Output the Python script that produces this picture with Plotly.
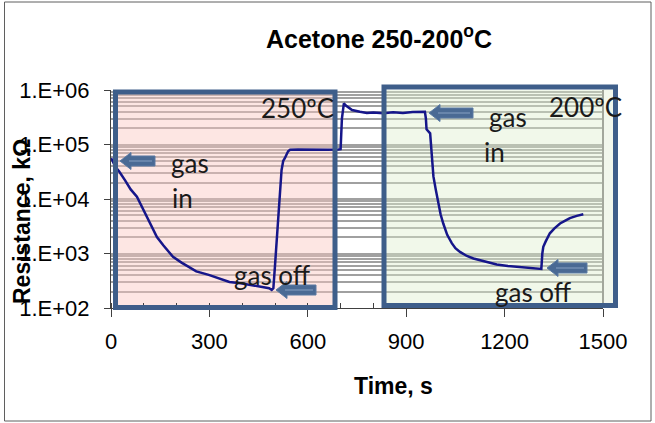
import plotly.graph_objects as go

# ---------------- data ----------------
time_s = [0, 5, 12, 25, 43, 60, 79, 95, 110, 125, 140, 160, 189, 215, 234, 260, 298, 330, 361,
          395, 425, 455, 482, 490, 495, 500, 508, 515, 520, 525, 530, 540, 546, 570, 600, 630,
          660, 693, 700, 704, 710, 716, 723, 735, 759, 780, 800, 830, 860, 890, 920, 957, 960,
          962, 973, 978, 983, 990, 998, 1005, 1013, 1025, 1039, 1050, 1064, 1085, 1105, 1140,
          1176, 1210, 1247, 1280, 1308, 1312, 1315, 1318, 1325, 1338, 1352, 1369, 1385, 1399,
          1420, 1440]
resistance_kohm = [56000, 50000, 40000, 32000, 22000, 15000, 11000, 7000, 4700, 3000, 2000, 1400,
                   870, 680, 575, 470, 405, 350, 300, 285, 265, 245, 230, 215, 230, 600, 3000,
                   15000, 34000, 50000, 56000, 75000, 80000, 81000, 80000, 81500, 80500, 81000,
                   82000, 300000, 570000, 520000, 490000, 430000, 400000, 380000, 385000, 375000,
                   390000, 380000, 395000, 400000, 300000, 190000, 160000, 60000, 26000, 15000,
                   8300, 5200, 3550, 2200, 1550, 1250, 1070, 900, 810, 720, 630, 590, 560, 530,
                   510, 520, 1000, 1330, 1650, 2350, 2900, 3550, 4000, 4450, 4900, 5250]

x_tick_vals = [0, 300, 600, 900, 1200, 1500]
x_tick_text = ["0", "300", "600", "900", "1200", "1500"]
y_tick_vals = [1e2, 1e3, 1e4, 1e5, 1e6]
y_tick_text = ["1.E+02", "1.E+03", "1.E+04", "1.E+05", "1.E+06"]

title_text = "Acetone 250-200<sup>o</sup>C"
x_title = "Time, s"
y_title = "Resistance, kΩ"
note_texts = ["gas", "in", "250ºC", "gas off", "gas", "in", "200ºC", "gas off"]

# ---------------- layout geometry (pixels) ----------------
W_IMG, H_IMG = 655, 423
L, T, R_, B = 111, 90, 603, 308
PW, PH = R_ - L, B - T
X_MAX = 1500
Y_LOG = (2, 6)


def px2x(px):
    return (px - L) / PW


def py2y(py):
    return 1 - (py - T) / PH


def px2t(px):
    return (px - L) / PW * X_MAX


def py2r(py):
    return 10 ** (Y_LOG[1] - (py - T) / PH * (Y_LOG[1] - Y_LOG[0]))


BOX_COLOR = "#3e5e8a"
ARROW_FILL = "#4a6a94"
GRID = "#a0a0a0"
FONT = "Liberation Sans, Arial, sans-serif"
NOTE_FONT = "Lato, Carlito, Calibri, sans-serif"

fig = go.Figure()
fig.add_trace(go.Scatter(x=time_s, y=resistance_kohm, mode="lines",
                         line=dict(color="#16168a", width=2.5), hoverinfo="skip",
                         showlegend=False))

shapes = []
# tinted fills (between gridlines and traces)
pink = (115.5, 92, 335, 307.5)
green = (384, 87, 615.5, 305.5)
shapes.append(dict(type="rect", xref="x", yref="y", layer="between",
                   x0=px2t(pink[0]), x1=px2t(pink[2]), y0=py2r(pink[3]), y1=py2r(pink[1]),
                   line=dict(width=0), fillcolor="rgba(250,200,194,0.45)"))
shapes.append(dict(type="rect", xref="x", yref="y", layer="between",
                   x0=px2t(green[0]), x1=px2t(green[2]), y0=py2r(green[3]), y1=py2r(green[1]),
                   line=dict(width=0), fillcolor="rgba(222,238,206,0.42)"))
# green strip beyond plot area
shapes.append(dict(type="rect", xref="paper", yref="paper", layer="below",
                   x0=px2x(R_), x1=px2x(green[2]), y0=py2y(green[3]), y1=py2y(green[1]),
                   line=dict(width=0), fillcolor="#f2f7ec"))
# right edge gray line of plot area
shapes.append(dict(type="line", xref="paper", yref="paper", layer="above",
                   x0=1, x1=1, y0=0, y1=1, line=dict(color="#a3a79c", width=2)))
# box borders
for bx in (pink, green):
    shapes.append(dict(type="rect", xref="paper", yref="paper", layer="above",
                       x0=px2x(bx[0]), x1=px2x(bx[2]), y0=py2y(bx[3]), y1=py2y(bx[1]),
                       line=dict(color=BOX_COLOR, width=5), fillcolor="rgba(0,0,0,0)"))


def arrow_path(tip_x, tail_x, yc, hl=11, hh=8.5, bh=5):
    pts = [(tip_x, yc), (tip_x + hl, yc - hh), (tip_x + hl, yc - bh), (tail_x, yc - bh),
           (tail_x, yc + bh), (tip_x + hl, yc + bh), (tip_x + hl, yc + hh)]
    return "M " + " L ".join(f"{px2x(a):.5f},{py2y(b):.5f}" for a, b in pts) + " Z"


for tip, tail, yc in [(120, 155, 161), (276, 316, 290), (429, 473, 113), (547, 587, 268)]:
    shapes.append(dict(type="path", xref="paper", yref="paper", layer="above",
                       path=arrow_path(tip, tail, yc), fillcolor=ARROW_FILL,
                       line=dict(color="#5a7aa3", width=1)))
    shapes.append(dict(type="line", xref="paper", yref="paper", layer="above",
                       x0=px2x(tip + 9), x1=px2x(tail - 3), y0=py2y(yc), y1=py2y(yc),
                       line=dict(color="#86a0c2", width=1)))

# outer frame of the chart
shapes.append(dict(type="rect", xref="paper", yref="paper", layer="above",
                   x0=px2x(4.5), x1=px2x(651), y0=py2y(421), y1=py2y(2),
                   line=dict(color="#5f5f5f", width=1), fillcolor="rgba(0,0,0,0)"))

annotations = []
note_pos = [(169, 163), (170, 198), (259, 108), (232, 275),
            (487, 117), (482, 152), (547, 107), (493, 292)]
for txt, (ax_, ay_) in zip(note_texts, note_pos):
    annotations.append(dict(text=txt, xref="paper", yref="paper", x=px2x(ax_), y=py2y(ay_),
                            xanchor="left", yanchor="middle", showarrow=False,
                            font=dict(family=NOTE_FONT, size=26, color="#1a1a1a")))
annotations.append(dict(text=f"<b>{x_title}</b>", xref="paper", yref="paper",
                        x=px2x(393), y=py2y(386), xanchor="center", yanchor="middle",
                        showarrow=False, font=dict(family=FONT, size=23, color="black")))
annotations.append(dict(text=f"<b>{y_title}</b>", xref="paper", yref="paper",
                        x=px2x(22), y=py2y(222), xanchor="center", yanchor="middle",
                        textangle=-90, showarrow=False,
                        font=dict(family=FONT, size=23, color="black")))

fig.update_layout(
    width=W_IMG, height=H_IMG, autosize=False,
    margin=dict(l=L, r=W_IMG - R_, t=T, b=H_IMG - B, pad=0),
    paper_bgcolor="white", plot_bgcolor="white",
    title=dict(text=f"<b>{title_text}</b>", x=379 / W_IMG,
               xref="container", xanchor="center", y=1 - 39 / H_IMG, yref="container",
               yanchor="middle", font=dict(family=FONT, size=25, color="black")),
    shapes=shapes, annotations=annotations,
    xaxis=dict(range=[0, X_MAX], tickmode="array", tickvals=x_tick_vals, ticktext=x_tick_text,
               showgrid=False, zeroline=False, showline=True, linecolor="#404040", linewidth=1.2,
               ticks="outside", ticklen=8, tickcolor="#404040", ticklabelstandoff=5,
               tickfont=dict(family=FONT, size=22, color="black"),
               minor=dict(dtick=100, tick0=0, ticks="inside", ticklen=5, tickcolor="#404040",
                          showgrid=False)),
    yaxis=dict(type="log", range=list(Y_LOG), tickmode="array", tickvals=y_tick_vals,
               ticktext=y_tick_text, showgrid=True, gridcolor=GRID, gridwidth=1.7,
               zeroline=False, showline=True, linecolor="#404040", linewidth=1.2,
               ticks="outside", ticklen=6, tickcolor="#404040", ticklabelstandoff=10,
               tickfont=dict(family=FONT, size=22, color="black"),
               minor=dict(tickmode="linear", dtick="D1", showgrid=True, gridcolor=GRID,
                          gridwidth=1.7, ticks="")),
)

fig.write_html("out.html")
